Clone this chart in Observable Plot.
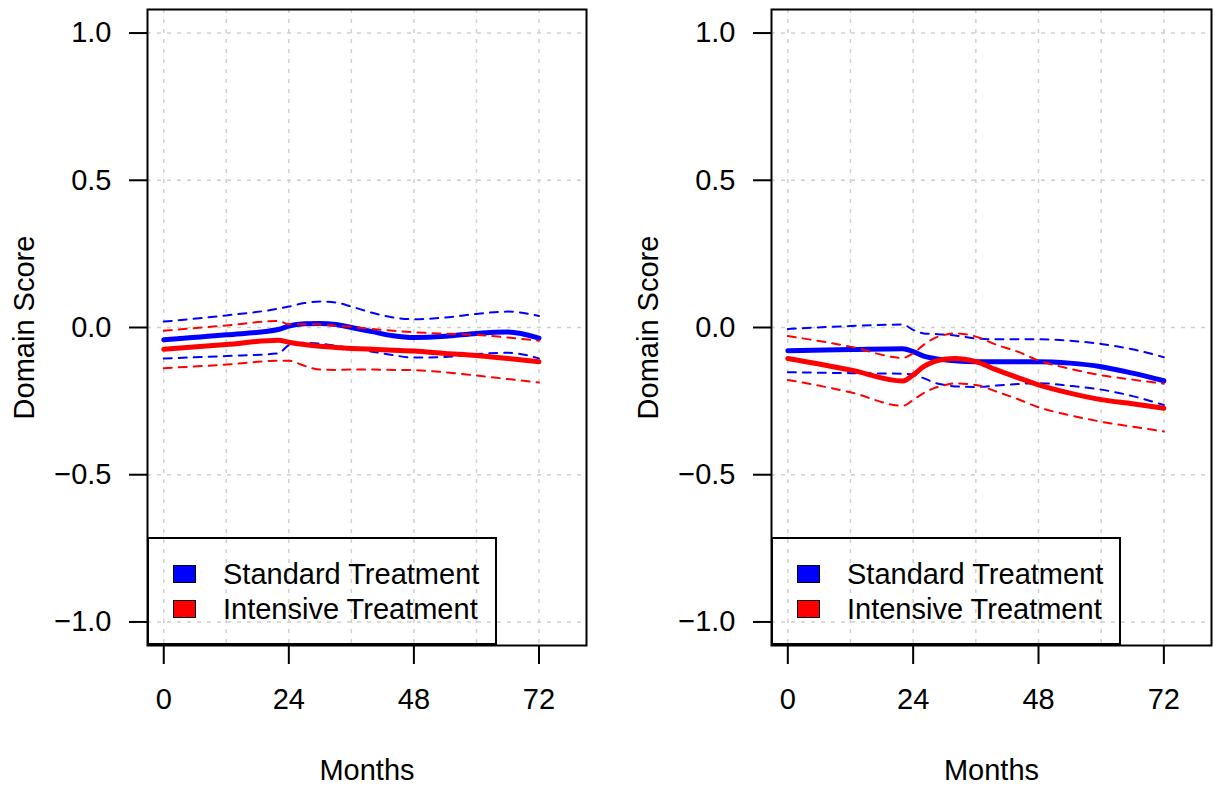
<!DOCTYPE html>
<html><head><meta charset="utf-8">
<script src="https://cdn.jsdelivr.net/npm/d3@7"></script>
<script src="https://cdn.jsdelivr.net/npm/@observablehq/plot@0.6"></script>
<style>
body{margin:0;background:#fff;font-family:"Liberation Sans",Arial,Helvetica,sans-serif;}
#wrap{display:flex;width:1217px;height:789px;overflow:hidden;}
.panel{position:relative;}
.panel svg{display:block;}
.legend{position:absolute;top:537px;height:108px;border:2px solid #000;box-sizing:border-box;}
.row{position:absolute;left:24px;height:30px;display:flex;align-items:center;font-size:29px;color:#000;white-space:nowrap;}
.sw{width:23px;height:18px;border:1.5px solid #000;box-sizing:border-box;margin-right:27px;}
</style></head><body><div id="wrap"></div>
<script>
// ---- tick labels / categories ----
const seriesNames = ["Standard Treatment", "Intensive Treatment"];
const seriesColors = ["#0000ff", "#ff0000"];
const xTicks = [0, 24, 48, 72];
const xGrid = [0, 12, 24, 36, 48, 60, 72];
const yTicks = [-1.0, -0.5, 0.0, 0.5, 1.0];

// ---- left panel ----
const leftMonths   = [0, 12, 22, 24, 27, 30, 33, 36, 40, 44, 48, 54, 60, 66, 72];
const leftStdMean  = [-0.042, -0.025, -0.007, 0.005, 0.013, 0.014, 0.010, 0.000, -0.014, -0.028, -0.034, -0.030, -0.020, -0.015, -0.036];
const leftStdLower = [-0.105, -0.097, -0.088, -0.060, -0.052, -0.055, -0.062, -0.070, -0.082, -0.094, -0.102, -0.100, -0.090, -0.086, -0.105];
const leftStdUpper = [0.020, 0.041, 0.064, 0.071, 0.083, 0.088, 0.085, 0.071, 0.050, 0.034, 0.028, 0.034, 0.046, 0.054, 0.039];
const leftIntMean  = [-0.074, -0.058, -0.043, -0.050, -0.058, -0.064, -0.068, -0.071, -0.074, -0.077, -0.080, -0.088, -0.095, -0.105, -0.116];
const leftIntLower = [-0.138, -0.126, -0.113, -0.113, -0.130, -0.143, -0.144, -0.143, -0.143, -0.144, -0.145, -0.152, -0.163, -0.175, -0.187];
const leftIntUpper = [-0.011, 0.007, 0.022, 0.011, 0.011, 0.010, 0.006, 0.002, -0.005, -0.011, -0.016, -0.021, -0.025, -0.034, -0.045];

// ---- right panel ----
const rightMonths   = [0, 12, 22, 24, 26, 28, 30, 32, 36, 40, 44, 48, 54, 60, 66, 72];
const rightStdMean  = [-0.079, -0.075, -0.072, -0.082, -0.097, -0.105, -0.110, -0.113, -0.116, -0.116, -0.116, -0.116, -0.121, -0.133, -0.155, -0.181];
const rightStdLower = [-0.152, -0.155, -0.157, -0.161, -0.172, -0.187, -0.195, -0.200, -0.202, -0.197, -0.192, -0.189, -0.198, -0.211, -0.233, -0.263];
const rightStdUpper = [-0.005, 0.005, 0.010, -0.008, -0.020, -0.022, -0.024, -0.027, -0.037, -0.040, -0.040, -0.040, -0.045, -0.056, -0.074, -0.101];
const rightIntMean  = [-0.105, -0.144, -0.182, -0.161, -0.133, -0.116, -0.108, -0.105, -0.116, -0.144, -0.170, -0.195, -0.223, -0.245, -0.259, -0.274];
const rightIntLower = [-0.178, -0.220, -0.266, -0.246, -0.223, -0.206, -0.196, -0.190, -0.195, -0.218, -0.243, -0.271, -0.298, -0.320, -0.337, -0.353];
const rightIntUpper = [-0.029, -0.065, -0.103, -0.088, -0.059, -0.037, -0.025, -0.020, -0.031, -0.059, -0.082, -0.112, -0.140, -0.162, -0.177, -0.191];

function buildRows(months, sets) {
  const rows = [];
  for (const [group, stat, vals] of sets) {
    months.forEach((m, i) => rows.push({group, stat, month: m, value: vals[i]}));
  }
  return rows;
}

const panels = [
  {width: 608, ml: 147, mr: 22, rows: buildRows(leftMonths, [
    [0, "lower", leftStdLower], [0, "upper", leftStdUpper], [0, "mean", leftStdMean],
    [1, "lower", leftIntLower], [1, "upper", leftIntUpper], [1, "mean", leftIntMean]])},
  {width: 609, ml: 163, mr: 6, rows: buildRows(rightMonths, [
    [0, "lower", rightStdLower], [0, "upper", rightStdUpper], [0, "mean", rightStdMean],
    [1, "lower", rightIntLower], [1, "upper", rightIntUpper], [1, "mean", rightIntMean]])}
];

const fmtY = d => d.toFixed(1).replace("-", "\u2212");
const font = "Liberation Sans, Arial, Helvetica, sans-serif";
const wrap = document.getElementById("wrap");

for (const p of panels) {
  const lineMarks = [];
  for (const g of [0, 1]) {
    lineMarks.push(Plot.line(p.rows.filter(d => d.group === g && d.stat !== "mean"), {
      x: "month", y: "value", z: "stat", stroke: seriesColors[g], strokeWidth: 2,
      strokeDasharray: "8,7", curve: "monotone-x"
    }));
    lineMarks.push(Plot.line(p.rows.filter(d => d.group === g && d.stat === "mean"), {
      x: "month", y: "value", stroke: seriesColors[g], strokeWidth: 5, curve: "monotone-x"
    }));
  }
  // order: blue dashed, blue solid, red solid, red dashed
  const ordered = [lineMarks[0], lineMarks[1], lineMarks[3], lineMarks[2]];

  const chart = Plot.plot({
    width: p.width, height: 789,
    marginLeft: p.ml, marginRight: p.mr, marginTop: 9, marginBottom: 144,
    x: {domain: [-3.12, 81.12], label: null},
    y: {domain: [-1.08, 1.08], label: null},
    style: {fontFamily: font, fontSize: "29px", color: "black", background: "white", overflow: "visible"},
    marks: [
      Plot.ruleX(xGrid, {stroke: "#d0d0d0", strokeWidth: 1.5, strokeDasharray: "4,6"}),
      Plot.ruleY(yTicks, {stroke: "#d0d0d0", strokeWidth: 1.5, strokeDasharray: "4,6"}),
      ...ordered,
      Plot.frame({stroke: "black", strokeWidth: 2}),
      Plot.axisY(yTicks, {tickSize: 18, tickPadding: 18, tickFormat: fmtY, strokeWidth: 2, fontSize: 29, label: null}),
      Plot.axisX(xTicks, {tickSize: 19, tickPadding: 24, tickFormat: d => String(d), strokeWidth: 2, fontSize: 29, label: null}),
      Plot.text(["Domain Score"], {frameAnchor: "left", textAnchor: "middle", rotate: -90, dx: -114, lineAnchor: "bottom", fontSize: 29, fill: "black"}),
      Plot.text(["Months"], {frameAnchor: "bottom", dy: 134, lineAnchor: "bottom", fontSize: 29, fill: "black"})
    ]
  });

  const div = document.createElement("div");
  div.className = "panel";
  div.style.width = p.width + "px";
  div.appendChild(chart);

  const leg = document.createElement("div");
  leg.className = "legend";
  leg.style.left = p.ml + "px";
  leg.style.width = "350px";
  seriesNames.forEach((name, i) => {
    const row = document.createElement("div");
    row.className = "row";
    row.style.top = (20 + i * 35) + "px";
    const sw = document.createElement("div");
    sw.className = "sw";
    sw.style.background = seriesColors[i];
    row.appendChild(sw);
    row.appendChild(document.createTextNode(name));
    leg.appendChild(row);
  });
  div.appendChild(leg);
  wrap.appendChild(div);
}
</script>
</body></html>
